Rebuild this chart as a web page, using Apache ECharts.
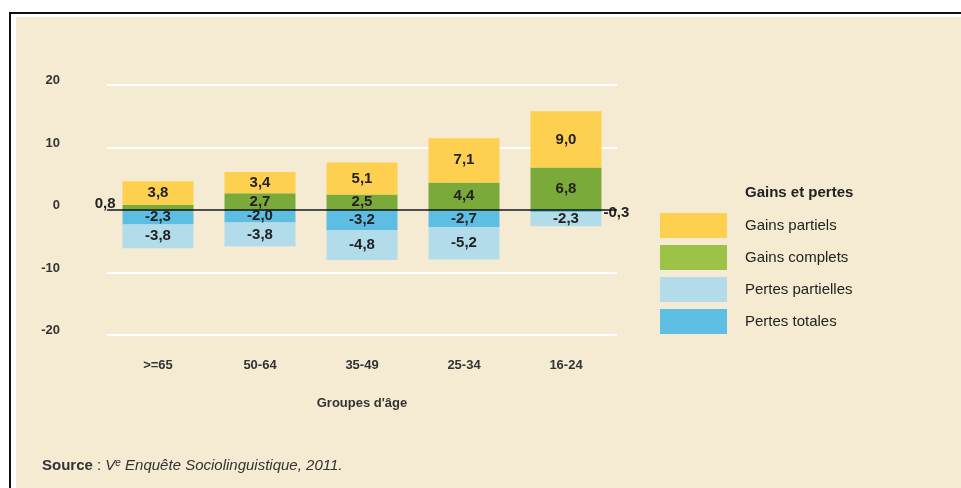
<!DOCTYPE html>
<html>
<head>
<meta charset="utf-8">
<script src="https://cdn.jsdelivr.net/npm/echarts@6/dist/echarts.min.js"></script>
<style>
  html, body { margin: 0; padding: 0; background: #fff; }
  #main { width: 961px; height: 488px; }
</style>
</head>
<body>
<div id="main"></div>
<script>
var categories = ['>=65', '50-64', '35-49', '25-34', '16-24'];
var gainsComplets = [0.8, 2.7, 2.5, 4.4, 6.8];
var gainsPartiels = [3.8, 3.4, 5.1, 7.1, 9.0];
var pertesTotales = [-2.3, -2.0, -3.2, -2.7, -0.3];
var pertesPartielles = [-3.8, -3.8, -4.8, -5.2, -2.3];
var yTicks = { min: -20, max: 20, interval: 10 };

var FONT = '"Liberation Sans", Arial, sans-serif';

function fmt(v) {
	return v.toFixed(1).replace('.', ',');
}

// petites valeurs : étiquette à côté de la barre
function barData(arr) {
	return arr.map(function (v) {
		if (Math.abs(v) < 1) {
			return {
				value: v,
				label: v > 0 ? { position: 'left', distance: 5, offset: [-2, -4] } : { position: 'right', distance: 2, offset: [0, 2] }
			};
		}
		return v;
	});
}

function makeSeries(name, arr, color) {
	return {
		name: name,
		type: 'bar',
		stack: 'total',
		barWidth: 71,
		data: barData(arr),
		itemStyle: { color: color },
		label: {
			show: true,
			position: 'inside',
			color: '#222',
			fontFamily: FONT,
			fontWeight: 'bold',
			fontSize: 15,
			formatter: function (p) { return fmt(p.value); }
		}
	};
}

var myChart = echarts.init(document.getElementById('main'));
var series = [
	makeSeries('Gains complets', gainsComplets, '#7aaa3a'),
	makeSeries('Gains partiels', gainsPartiels, '#fed04f'),
	makeSeries('Pertes totales', pertesTotales, '#5dbde2'),
	makeSeries('Pertes partielles', pertesPartielles, '#b2dcea')
];
// ligne du zéro
series[0].markLine = {
	silent: true,
	symbol: 'none',
	label: { show: false },
	lineStyle: { color: '#111', width: 1.5, type: 'solid' },
	data: [{ yAxis: 0 }],
	z: 10
};

var option = {
	animation: false,
	backgroundColor: '#fff',
	graphic: [
		{ type: 'rect', shape: { x: 10, y: 13, width: 1000, height: 500 }, style: { fill: 'none', stroke: '#111', lineWidth: 2 }, z: -10 },
		{ type: 'rect', shape: { x: 16, y: 17, width: 1000, height: 500 }, style: { fill: '#f5ebd2' }, z: -10 },
		{
			type: 'text', left: 42, top: 458,
			style: {
				text: '{b|Source} : {i|V}{s|e}{i| Enquête Sociolinguistique, 2011.}',
				fontFamily: FONT, fontSize: 15, fill: '#333',
				rich: {
					b: { fontFamily: FONT, fontSize: 15, fontWeight: 'bold', fill: '#333' },
					i: { fontFamily: FONT, fontSize: 15, fontStyle: 'italic', fill: '#333' },
					s: { fontFamily: FONT, fontSize: 10, fontStyle: 'italic', fill: '#333', verticalAlign: 'top', padding: [0, 0, 6, 0] }
				}
			}
		}
	],
	title: {
		text: 'Gains et pertes',
		left: 740,
		top: 180,
		textStyle: { fontFamily: FONT, fontSize: 15, fontWeight: 'bold', color: '#222' }
	},
	legend: {
		orient: 'vertical',
		left: 660,
		top: 213,
		padding: 0,
		itemWidth: 67,
		itemHeight: 25,
		itemGap: 7,
		icon: 'rect',
		selectedMode: false,
		textStyle: { fontFamily: FONT, fontSize: 15, color: '#222', padding: [0, 0, 0, 13] },
		data: [
			{ name: 'Gains partiels', itemStyle: { color: '#fed04f' } },
			{ name: 'Gains complets', itemStyle: { color: '#9dc248' } },
			{ name: 'Pertes partielles', itemStyle: { color: '#b2dcea' } },
			{ name: 'Pertes totales', itemStyle: { color: '#5dbde2' } }
		]
	},
	grid: { left: 107, width: 510, top: 85, bottom: 153 },
	xAxis: {
		type: 'category',
		data: categories,
		name: "Groupes d'âge",
		nameLocation: 'middle',
		nameGap: 62,
		nameTextStyle: { fontFamily: FONT, fontSize: 13, fontWeight: 'bold', color: '#333' },
		axisLine: { show: false, onZero: false },
		axisTick: { show: false },
		axisLabel: { margin: 24, fontFamily: FONT, fontSize: 13, fontWeight: 'bold', color: '#333' }
	},
	yAxis: {
		type: 'value',
		min: yTicks.min,
		max: yTicks.max,
		interval: yTicks.interval,
		axisLine: { show: false },
		axisTick: { show: false },
		splitLine: { lineStyle: { color: '#fff', width: 2 } },
		axisLabel: { margin: 47, verticalAlign: 'bottom', padding: [0, 0, -2, 0], fontFamily: FONT, fontSize: 13, fontWeight: 'bold', color: '#333' }
	},
	series: series
};
myChart.setOption(option);
</script>
</body>
</html>
